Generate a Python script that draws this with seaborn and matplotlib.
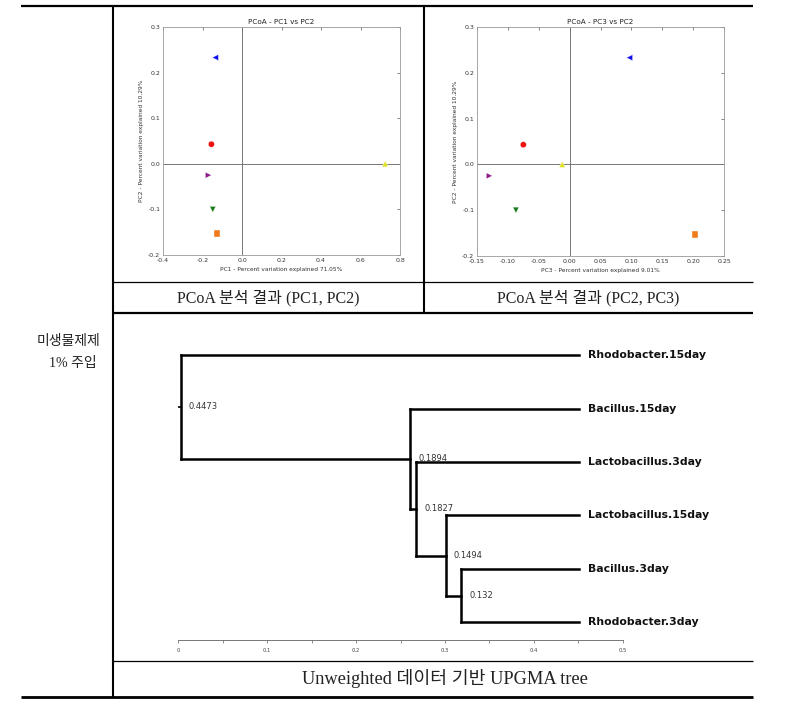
import numpy as np
import matplotlib
matplotlib.use("Agg")
import matplotlib.pyplot as plt
import seaborn as sns

# PCoA sample coordinates
sample_ids = ["blue", "red", "purple", "green", "orange", "yellow"]
pc1 = [-0.135, -0.155, -0.170, -0.148, -0.125, 0.725]
pc2 = [0.233, 0.043, -0.025, -0.100, -0.153, 0.000]
pc3 = [0.097, -0.075, -0.130, -0.087, 0.203, -0.012]
point_colors = {"blue": "#1010f0", "red": "#f01010", "purple": "#8a1a8a",
                "green": "#1a7a1a", "orange": "#f07a1a", "yellow": "#e0e020"}
point_markers = {"blue": "<", "red": "o", "purple": ">", "green": "v",
                 "orange": "s", "yellow": "^"}

pc1_label = "PC1 - Percent variation explained 71.05%"
pc2_label = "PC2 - Percent variation explained 10.29%"
pc3_label = "PC3 - Percent variation explained 9.01%"

# UPGMA tree (leaves top to bottom, merges bottom-up)
leaves = ["Rhodobacter.15day", "Bacillus.15day", "Lactobacillus.3day",
          "Lactobacillus.15day", "Bacillus.3day", "Rhodobacter.3day"]
merge_left = ["Bacillus.3day", "Lactobacillus.15day", "Lactobacillus.3day",
              "Bacillus.15day", "Rhodobacter.15day"]
merge_right = ["Rhodobacter.3day", "n0", "n1", "n2", "n3"]
merge_height = [0.132, 0.1494, 0.1827, 0.1894, 0.4473]

sns.set_theme(style="white")
plt.rcParams["font.family"] = ["DejaVu Sans"]

W, H = 798, 707
fig = plt.figure(figsize=(W / 100, H / 100), dpi=100)


def px_axes(left, top, right, bottom):
    return fig.add_axes([left / W, 1 - bottom / H, (right - left) / W, (bottom - top) / H])


# background layer for the table lines and captions
bg = fig.add_axes([0, 0, 1, 1], zorder=0)
bg.set_xlim(0, W)
bg.set_ylim(H, 0)
bg.axis("off")
for x0, y0, x1, y1, lw in [(21, 6, 753, 6, 1.6), (113, 6, 113, 697, 1.5),
                           (424, 6, 424, 313, 1.5), (113, 282, 753, 282, 0.9),
                           (113, 313, 753, 313, 1.6), (113, 661, 753, 661, 0.9),
                           (21, 697, 753, 697, 2.0)]:
    bg.plot([x0, x1], [y0, y1], color="black", lw=lw, solid_capstyle="butt")

cap_font = ["Liberation Serif", "Noto Sans CJK KR"]
bg.text(268, 298, "PCoA 분석 결과 (PC1, PC2)", ha="center", va="center",
        fontsize=11.5, family=cap_font, color="#222222")
bg.text(588, 298, "PCoA 분석 결과 (PC2, PC3)", ha="center", va="center",
        fontsize=11.5, family=cap_font, color="#222222")
bg.text(445, 679, "Unweighted 데이터 기반 UPGMA tree", ha="center", va="center",
        fontsize=13.2, family=cap_font, color="#222222")
bg.text(100, 341, "미생물제제", ha="right", va="center", fontsize=10,
        family=["Noto Sans CJK KR"], color="#222222")
bg.text(97, 363, "1% 주입", ha="right", va="center", fontsize=10,
        family=cap_font, color="#222222")


def pcoa_panel(ax, xs, ys, xlim, xticks, xlabel, title):
    sns.scatterplot(ax=ax, x=xs, y=ys, hue=sample_ids, style=sample_ids,
                    palette=point_colors, markers=point_markers, s=20,
                    linewidth=0.3, legend=False, zorder=3)
    ax.axhline(0, color="#777777", lw=0.7, zorder=1)
    ax.axvline(0, color="#777777", lw=0.7, zorder=1)
    ax.set_xlim(*xlim)
    ax.set_ylim(-0.2, 0.3)
    ax.set_xticks(xticks)
    ax.set_yticks([-0.2, -0.1, 0.0, 0.1, 0.2, 0.3])
    ax.xaxis.set_major_formatter(matplotlib.ticker.FormatStrFormatter(
        "%.2f" if xlim[0] == -0.15 else "%.1f"))
    ax.yaxis.set_major_formatter(matplotlib.ticker.FormatStrFormatter("%.1f"))
    ax.tick_params(direction="in", length=2, width=0.5, top=True, right=True,
                   labelsize=4.5, labelcolor="#333333", color="#555555", pad=2)
    for sp in ax.spines.values():
        sp.set_color("#999999")
        sp.set_linewidth(0.6)
    ax.set_xlabel(xlabel, fontsize=4.2, color="#333333", labelpad=3)
    ax.set_ylabel(pc2_label, fontsize=4.2, color="#333333", labelpad=3)
    ax.set_title(title, fontsize=5.2, color="#222222", pad=2)


ax1 = px_axes(163, 27, 400, 255)
pcoa_panel(ax1, pc1, pc2, (-0.4, 0.8), np.arange(-0.4, 0.81, 0.2), pc1_label,
           "PCoA - PC1 vs PC2")
ax2 = px_axes(477, 27, 724, 256)
pcoa_panel(ax2, pc3, pc2, (-0.15, 0.25), np.arange(-0.15, 0.251, 0.05), pc3_label,
           "PCoA - PC3 vs PC2")

# dendrogram
axd = px_axes(178.3, 345, 622.7, 640)
axd.set_facecolor("none")
root_x = 0.003
root_h = merge_height[-1]
pos_y = {name: i for i, name in enumerate(leaves)}
pos_x = {name: root_x + root_h for name in leaves}
for i, (a, b, h) in enumerate(zip(merge_left, merge_right, merge_height)):
    node = f"n{i}"
    nx = root_x + root_h - h
    for child in (a, b):
        axd.plot([nx, pos_x[child]], [pos_y[child], pos_y[child]], color="black",
                 lw=1.8, solid_capstyle="projecting")
    axd.plot([nx, nx], [pos_y[a], pos_y[b]], color="black", lw=1.8,
             solid_capstyle="projecting")
    pos_x[node] = nx
    pos_y[node] = (pos_y[a] + pos_y[b]) / 2
    axd.text(nx + 0.009, pos_y[node], f"{h:g}", fontsize=6, color="#333333",
             ha="left", va="center")
root = f"n{len(merge_height) - 1}"
axd.plot([0, root_x], [pos_y[root], pos_y[root]], color="black", lw=1.2)
for name in leaves:
    axd.text(root_x + root_h + 0.011, pos_y[name], name, fontsize=7.8,
             fontweight="bold", color="#111111", ha="left", va="center")

axd.set_xlim(0, 0.5)
axd.set_ylim(5.33, -0.19)
for side in ("left", "right", "top"):
    axd.spines[side].set_visible(False)
axd.spines["bottom"].set_color("#777777")
axd.spines["bottom"].set_linewidth(0.7)
axd.set_yticks([])
axd.set_xticks([0, 0.1, 0.2, 0.3, 0.4, 0.5])
axd.set_xticklabels(["0", "0.1", "0.2", "0.3", "0.4", "0.5"])
axd.set_xticks(np.arange(0.05, 0.5, 0.1), minor=True)
axd.tick_params(axis="x", which="both", direction="out", length=2.5, width=0.6,
                bottom=True, labelsize=3.8, labelcolor="#444444", color="#777777", pad=3)

fig.savefig("out.png", dpi=100, facecolor="white")
